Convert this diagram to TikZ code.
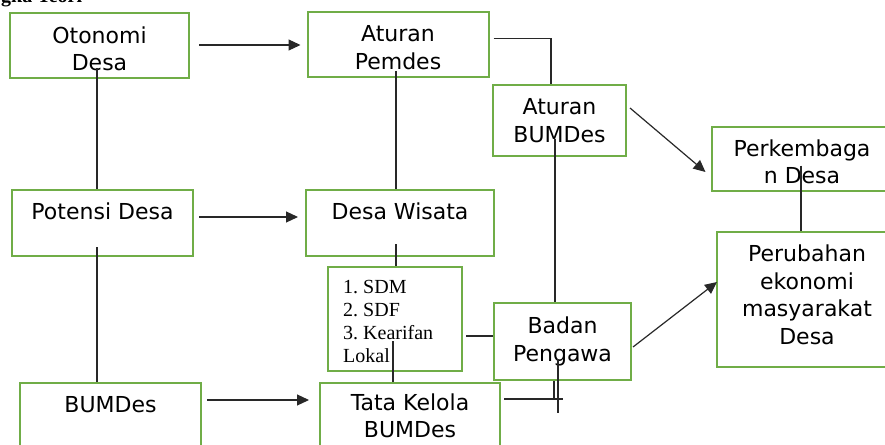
\documentclass[tikz,border=0pt]{standalone}
\usepackage{fontspec}
\setmainfont{DejaVu Sans}
\newfontfamily\serifx{Liberation Serif}
\usetikzlibrary{arrows.meta,calc}
\definecolor{boxgreen}{RGB}{112,173,71}
\definecolor{linegray}{RGB}{40,40,40}
\begin{document}
\begin{tikzpicture}[x=1pt,y=-1pt,
  box/.style={draw=boxgreen,line width=2pt,inner sep=0pt},
  txt/.style={inner sep=0pt,align=center,text=black,font=\fontsize{22}{27.5}\selectfont},
  conn/.style={draw=linegray,line width=1.2pt},
  arr/.style={conn,-{Triangle[length=12pt,width=11pt]}}]
\fill[white] (0,0) rectangle (885,444);
\useasboundingbox (0,0) rectangle (885,444);
\node[anchor=base west,inner sep=0pt,font=\serifx\bfseries\fontsize{20}{24}\selectfont] (title) at (1,2.5) {gka Teori};

% boxes
\node[box,minimum width=179pt,minimum height=65pt] (oto) at (99.5,45.5) {};
\node[box,minimum width=181pt,minimum height=64.5pt] (pem) at (398,44.5) {};
\node[box,minimum width=133pt,minimum height=71pt] (abu) at (559.5,120.5) {};
\node[box,minimum width=181pt,minimum height=64pt] (pkb) at (802,158.7) {};
\node[box,minimum width=180pt,minimum height=135pt] (pru) at (807,299.5) {};
\node[box,minimum width=181pt,minimum height=66pt] (pot) at (102.5,223) {};
\node[box,minimum width=188pt,minimum height=66pt] (dwi) at (400,223) {};
\node[box,minimum width=134pt,minimum height=104pt] (lst) at (395,319) {};
\node[box,minimum width=137pt,minimum height=77pt] (bad) at (562.5,341.5) {};
\node[box,minimum width=180pt,minimum height=69pt] (tkb) at (410,417.5) {};
\node[box,minimum width=181pt,minimum height=67pt] (bum) at (110.5,416.5) {};

% texts
\node[txt] (otoT) at ($(oto.center)+(0,3.5)$) {Otonomi\\Desa};
\node[txt] (pemT) at ($(pem.center)+(0,3)$) {Aturan\\Pemdes};
\node[txt] (abuT) at (abu.center) {Aturan\\BUMDes};
\node[txt] (pkbT) at ($(pkb.center)+(0,3.3)$) {Perkembaga\\n Desa};
\node[txt] (pruT) at ($(pru.center)+(0,-4.5)$) {Perubahan\\ekonomi\\masyarakat\\Desa};
\node[txt] (potT) at ($(pot.center)+(0,-11.5)$) {Potensi Desa};
\node[txt] (dwiT) at ($(dwi.center)+(0,-11.5)$) {Desa Wisata};
\node[txt] (badT) at (bad.center) {Badan\\Pengawa};
\node[txt] (tkbT) at ($(tkb.center)+(0,-1.5)$) {Tata Kelola\\BUMDes};
\node[txt] (bumT) at ($(bum.center)+(0,-11.5)$) {BUMDes};
\node[inner sep=0pt,anchor=north west,align=left,text=black,
  font=\serifx\frenchspacing\fontsize{20}{22.7}\selectfont] (lstT)
  at ($(lst.north west)+(16,14.5)$) {1. SDM\\2. SDF\\3. Kearifan\\Lokal};

% arrows
\draw[arr] ($(oto.east)+(9,-0.5)$) -- ($(pem.west)+(-6,0.5)$);
\draw[arr] ($(pot.east)+(5,-6)$) -- ($(dwi.west)+(-7,-6)$);
\draw[arr] ($(bum.east)+(5,-16.5)$) -- ($(tkb.west)+(-10,-17.5)$);
\draw[arr] ($(abu.east)+(3,-12.5)$) -- ($(pkb.west)+(-5,13.3)$);
\draw[arr] ($(bad.east)+(1,5.5)$) -- ($(pru.west)+(1,-17.5)$);

% plain connectors
\draw[conn] ($(oto.south)+(-2.5,-11)$) -- ($(pot.north)+(-5.5,0)$);
\draw[conn] ($(pot.south)+(-5.5,-10)$) -- ($(bum.north)+(-13.5,0)$);
\draw[conn] ($(pem.south)+(-2,-7)$) -- ($(dwi.north)+(-4,0)$);
\draw[conn] ($(dwi.south)+(-4,-13)$) -- ($(lst.north)+(1,0)$);
\draw[conn] ($(lst.south)+(-2,-31)$) -- ($(tkb.north)+(-17,0)$);
\draw[conn] ($(lst.east)+(3,17)$) -- ($(bad.west)+(0,-5.5)$);
\draw[conn] ($(pem.north east)+(4,27)$) -| ($(abu.north west)+(59,0)$);
\draw[conn] ($(abu.south)+(-4.5,-18)$) -- ($(bad.north)+(-7.5,0)$);
\draw[conn] ($(pkb.south)+(-1,-26)$) -- ($(pru.north)+(-6,0)$);
\coordinate (tkbend) at ($(tkb.east)+(62,-18.5)$);
\coordinate (badlow) at ($(bad.south)+(-4.5,32)$);
\draw[conn] ($(tkb.east)+(3,-18.5)$) -- (tkbend);
\draw[conn] ($(bad.south)+(-8.5,0)$) -- ($(bad.south)+(-8.5,19)$);
\draw[conn] ($(bad.south)+(-4.5,-22)$) -- (badlow);
\end{tikzpicture}
\end{document}
